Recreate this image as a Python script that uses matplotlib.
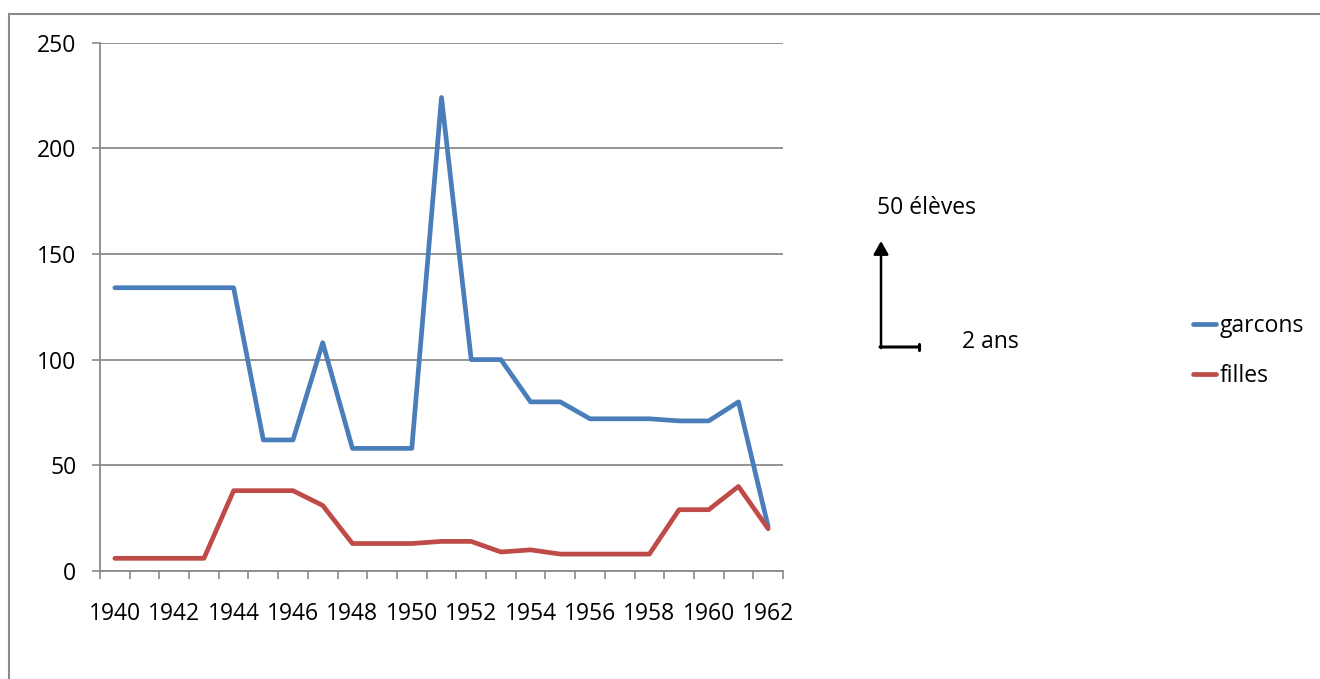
import matplotlib
matplotlib.use("Agg")
import matplotlib.pyplot as plt
from matplotlib.patches import Rectangle
import numpy as np

years = list(range(1940, 1963))
garcons = [134, 134, 134, 134, 134, 62, 62, 108, 58, 58, 58, 224, 100, 100,
           80, 80, 72, 72, 72, 71, 71, 80, 21]
filles = [6, 6, 6, 6, 38, 38, 38, 31, 13, 13, 13, 14, 14, 9,
          10, 8, 8, 8, 8, 29, 29, 40, 20]
yticks = [0, 50, 100, 150, 200, 250]

W, H = 1320, 679
FS = 16.5
plt.rcParams['font.family'] = ['Open Sans', 'DejaVu Sans']
fig = plt.figure(figsize=(W / 100, H / 100), dpi=100)
ax = fig.add_axes([100 / W, 1 - 571 / H, (783 - 100) / W, (571 - 42.5) / H])

gray = '#8a8a8a'
x = np.arange(len(years))
ax.plot(x, garcons, color='#4A7EBB', lw=3.4, solid_capstyle='round',
        solid_joinstyle='round', label='garcons', zorder=3)
ax.plot(x, filles, color='#BE4B48', lw=3.4, solid_capstyle='round',
        solid_joinstyle='round', label='filles', zorder=3)

ax.set_xlim(-0.5, len(years) - 0.5)
ax.set_ylim(0, 250)
ax.set_yticks(yticks)
ax.set_xticks(x[::2])
ax.set_xticklabels([str(y) for y in years[::2]])
ax.set_xticks(np.arange(len(years) + 1) - 0.5, minor=True)
ax.tick_params(axis='x', which='major', length=0, pad=22, labelsize=FS)
ax.tick_params(axis='x', which='minor', length=6, width=1.2, color=gray, direction='out')
ax.tick_params(axis='y', length=6, width=1.2, color=gray, pad=11, labelsize=FS)
ax.yaxis.grid(True, color=gray, lw=1.3)
ax.set_axisbelow(True)
for s in ['top', 'right']:
    ax.spines[s].set_visible(False)
for s in ['left', 'bottom']:
    ax.spines[s].set_color(gray)
    ax.spines[s].set_linewidth(1.3)

leg = ax.legend(loc='center left', bbox_to_anchor=(1172 / W, 1 - 351 / H),
                bbox_transform=fig.transFigure, frameon=False, fontsize=FS,
                handlelength=1.0, handletextpad=0.2, labelspacing=1.15)

# Scale annotation
fig.text(877 / W, 1 - 208 / H, '50 élèves', fontsize=FS, va='center', ha='left')
fig.text(962 / W, 1 - 342 / H, '2 ans', fontsize=FS, va='center', ha='left')
ax.annotate('', xy=(881 / W, 1 - 241 / H), xytext=(881 / W, 1 - 348 / H),
            xycoords='figure fraction', textcoords='figure fraction',
            arrowprops=dict(arrowstyle='-|>,head_length=0.8,head_width=0.45',
                            color='black', lw=1.8, shrinkA=0, shrinkB=0),
            annotation_clip=False)
ax.annotate('', xy=(919 / W, 1 - 347 / H), xytext=(880 / W, 1 - 347 / H),
            xycoords='figure fraction', textcoords='figure fraction',
            arrowprops=dict(arrowstyle='-[,widthB=0.25,lengthB=0',
                            color='black', lw=2.2, shrinkA=0, shrinkB=0),
            annotation_clip=False)

# Chart frame
fig.patches.append(Rectangle((8.5 / W, -0.1), 1.2, 1 - 14 / H + 0.1,
                             transform=fig.transFigure, fill=False,
                             edgecolor=gray, lw=1.5, clip_on=False))

fig.savefig('out.png', dpi=100)
